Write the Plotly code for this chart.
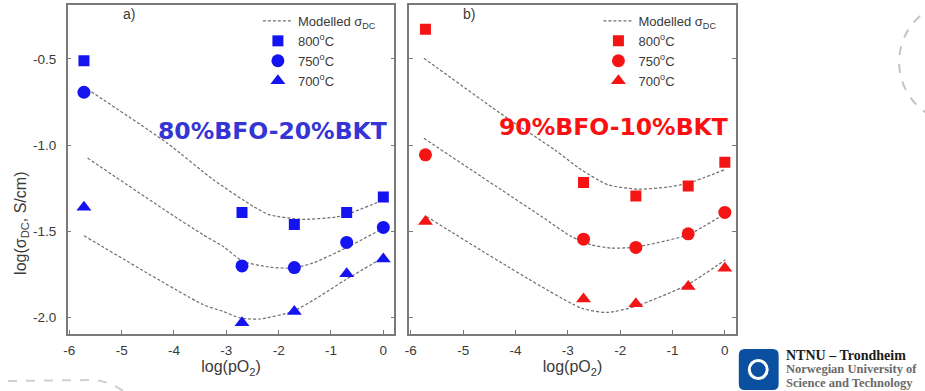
import plotly.graph_objects as go

# ---------------- data ----------------
x_pts = [-5.72, -2.70, -1.70, -0.70, 0.0]
x_tick_vals = [-6, -5, -4, -3, -2, -1, 0]
x_tick_text = ["-6", "-5", "-4", "-3", "-2", "-1", "0"]
y_tick_vals = [-0.5, -1.0, -1.5, -2.0]
y_tick_text = ["-0.5", "-1.0", "-1.5", "-2.0"]
temps = ["800<sup>o</sup>C", "750<sup>o</sup>C", "700<sup>o</sup>C"]
symbols = ["square", "circle", "triangle-up"]

# panel a) 80%BFO-20%BKT measured
a_800 = [-0.51, -1.39, -1.46, -1.39, -1.30]
a_750 = [-0.693, -1.70, -1.71, -1.564, -1.477]
a_700 = [-1.36, -2.03, -1.965, -1.746, -1.66]
# panel a) modelled curves (read along the dashed lines)
a_m800_x = [-5.58, -4.12, -3.25, -2.48, -2.17, -1.54, -0.91, -0.72, 0.01]
a_m800_y = [-0.69, -0.99, -1.20, -1.356, -1.404, -1.43, -1.417, -1.404, -1.317]
a_m750_x = [-5.65, -4.18, -3.44, -3.06, -2.68, -2.17, -1.73, -1.35, -0.72, 0.01]
a_m750_y = [-1.075, -1.375, -1.52, -1.587, -1.674, -1.707, -1.713, -1.684, -1.597, -1.48]
a_m700_x = [-5.72, -3.44, -3.06, -2.74, -2.36, -1.73, -1.22, -0.72, 0.01]
a_m700_y = [-1.525, -1.925, -1.964, -2.002, -2.008, -1.964, -1.877, -1.78, -1.65]

# panel b) 90%BFO-10%BKT measured
b_800 = [-0.328, -1.217, -1.294, -1.236, -1.099]
b_750 = [-1.056, -1.545, -1.593, -1.514, -1.39]
b_700 = [-1.443, -1.892, -1.92, -1.819, -1.713]
# panel b) modelled curves
b_m800_x = [-5.75, -4.20, -3.25, -2.74, -2.23, -1.66, -1.09, -0.69, 0.02]
b_m800_y = [-0.496, -0.834, -1.027, -1.143, -1.23, -1.255, -1.243, -1.22, -1.139]
b_m750_x = [-5.75, -4.27, -3.50, -2.93, -2.55, -2.17, -1.71, -0.71, 0.01]
b_m750_y = [-0.96, -1.259, -1.414, -1.53, -1.578, -1.597, -1.591, -1.52, -1.395]
b_m700_x = [-5.70, -2.74, -2.23, -1.71, -0.71, 0.01]
b_m700_y = [-1.414, -1.945, -1.97, -1.935, -1.809, -1.664]

BLUE = "#1414f0"
RED = "#f51414"
LINE = "#6e6e6e"
FRAME = "#7a7a7a"

fig = go.Figure()


def add_panel(xa, ya, legend, color, meas, models):
    for i, (mx, my) in enumerate(models):
        fig.add_trace(go.Scatter(
            x=mx, y=my, mode="lines", xaxis=xa, yaxis=ya,
            line=dict(color=LINE, width=1.2, dash="3px,2px", shape="spline", smoothing=0.6),
            name="Modelled σ<sub>DC</sub>", legendgroup="m" + legend,
            showlegend=(i == 0), legend=legend, hoverinfo="skip"))
    for vals, t, s in zip(meas, temps, symbols):
        fig.add_trace(go.Scatter(
            x=x_pts, y=vals, mode="markers", xaxis=xa, yaxis=ya,
            marker=dict(symbol=s, color=color, size=13 if s != "square" else 11,
                        line=dict(width=0)),
            name=t, legend=legend))


add_panel("x", "y", "legend", BLUE, [a_800, a_750, a_700],
          [(a_m800_x, a_m800_y), (a_m750_x, a_m750_y), (a_m700_x, a_m700_y)])
add_panel("x2", "y2", "legend2", RED, [b_800, b_750, b_700],
          [(b_m800_x, b_m800_y), (b_m750_x, b_m750_y), (b_m700_x, b_m700_y)])

W, H = 925, 391
ydom = [1 - 334 / H, 1 - 5 / H]
xr = [-6.03, 0.21]
yr = [-2.095, -0.187]

SANS = "Liberation Sans, Arial, sans-serif"
tickfont = dict(family=SANS, size=13.5, color="#3a3a3a")
common_x = dict(range=xr, tickvals=x_tick_vals, ticktext=x_tick_text, ticks="inside",
                ticklen=4, tickcolor=FRAME, showline=True, linecolor=FRAME, linewidth=1.5,
                mirror=True, showgrid=False, zeroline=False, tickfont=tickfont,
                ticklabelstandoff=3,
                title=dict(text="log(pO<sub>2</sub>)", standoff=4,
                           font=dict(family=SANS, size=16, color="#3a3a3a")))
common_y = dict(range=yr, tickvals=y_tick_vals, ticktext=y_tick_text, ticks="inside",
                ticklen=4, tickcolor=FRAME, showline=True, linecolor=FRAME, linewidth=1.5,
                mirror="ticks", showgrid=False, zeroline=False, tickfont=tickfont,
                ticklabelstandoff=7)

legend_common = dict(font=dict(family=SANS, size=13, color="#3a3a3a"),
                     bgcolor="rgba(0,0,0,0)", yanchor="top", xanchor="left",
                     tracegroupgap=0, itemwidth=30, traceorder="normal")

fig.update_layout(
    width=W, height=H, margin=dict(l=0, r=0, t=0, b=0),
    paper_bgcolor="white", plot_bgcolor="white",
    xaxis=dict(domain=[64 / W, 392 / W], anchor="y", **common_x),
    yaxis=dict(domain=ydom, anchor="x", **common_y),
    xaxis2=dict(domain=[407 / W, 735 / W], anchor="y2", **common_x),
    yaxis2=dict(domain=ydom, anchor="x2", showticklabels=False, **common_y),
    legend=dict(x=255 / W, y=1 - 6 / H, **legend_common),
    legend2=dict(x=597 / W, y=1 - 6 / H, **legend_common),
    showlegend=True,
)


def ann(px, py, text, font, angle=0, xanchor="center"):
    fig.add_annotation(x=px / W, y=1 - py / H, xref="paper", yref="paper", text=text,
                       showarrow=False, font=font, textangle=angle,
                       xanchor=xanchor, yanchor="middle")


ann_font = dict(family=SANS, size=14, color="#3a3a3a")
ann(17, 223, "log(σ<sub>DC</sub>, S/cm)", dict(family=SANS, size=16, color="#3a3a3a"), angle=-90)
ann(126, 14, "a)", ann_font)
ann(467, 14, "b)", ann_font)
ann(270, 131, "<b>80%BFO-20%BKT</b>", dict(family="DejaVu Sans, sans-serif", size=23.5, color="#3535d6"))
ann(612, 127, "<b>90%BFO-10%BKT</b>", dict(family="DejaVu Sans, sans-serif", size=23.5, color="#fa1010"))

# decorative dashed arcs of the slide
fig.add_shape(type="circle", xref="paper", yref="paper", x0=899 / W, x1=1021 / W,
              y0=1 - 123 / H, y1=1 - 1 / H, line=dict(color="#c4c4c4", width=2, dash="dash"))
fig.add_shape(type="path", xref="paper", yref="paper",
              path=f"M {4/W} {1-381/H} L {90/W} {1-380/H} Q {105/W} {1-381/H} {120/W} {1-391/H}",
              line=dict(color="#cfcfcf", width=2, dash="dash"))

# NTNU logo (rounded blue square)
x0, x1, y0, y1, r = 738, 778, 349, 390, 6
pts = (f"M {(x0+r)/W} {1-y0/H} L {(x1-r)/W} {1-y0/H} Q {x1/W} {1-y0/H} {x1/W} {1-(y0+r)/H} "
       f"L {x1/W} {1-(y1-r)/H} Q {x1/W} {1-y1/H} {(x1-r)/W} {1-y1/H} "
       f"L {(x0+r)/W} {1-y1/H} Q {x0/W} {1-y1/H} {x0/W} {1-(y1-r)/H} "
       f"L {x0/W} {1-(y0+r)/H} Q {x0/W} {1-y0/H} {(x0+r)/W} {1-y0/H} Z")
fig.add_shape(type="path", xref="paper", yref="paper", path=pts,
              fillcolor="#0a4fa0", line=dict(width=0), layer="above")
fig.add_shape(type="circle", xref="paper", yref="paper", x0=747 / W, x1=768 / W,
              y0=1 - 380 / H, y1=1 - 359 / H, fillcolor="white", line=dict(width=0))
fig.add_shape(type="circle", xref="paper", yref="paper", x0=750 / W, x1=765 / W,
              y0=1 - 377 / H, y1=1 - 362 / H, fillcolor="#0a4fa0", line=dict(width=0))
SERIF = "Liberation Serif, Times New Roman, serif"
ann(783, 355, "<b>NTNU – Trondheim</b>", dict(family=SERIF, size=14, color="#1a1a1a"), xanchor="left")
ann(783, 369, "<b>Norwegian University of</b>", dict(family=SERIF, size=12.5, color="#6a6a6a"), xanchor="left")
ann(783, 383, "<b>Science and Technology</b>", dict(family=SERIF, size=12.5, color="#6a6a6a"), xanchor="left")

fig.write_html("out.html", config={"displayModeBar": False},
               post_script="document.body.style.margin='0';document.body.style.overflow='hidden';")
